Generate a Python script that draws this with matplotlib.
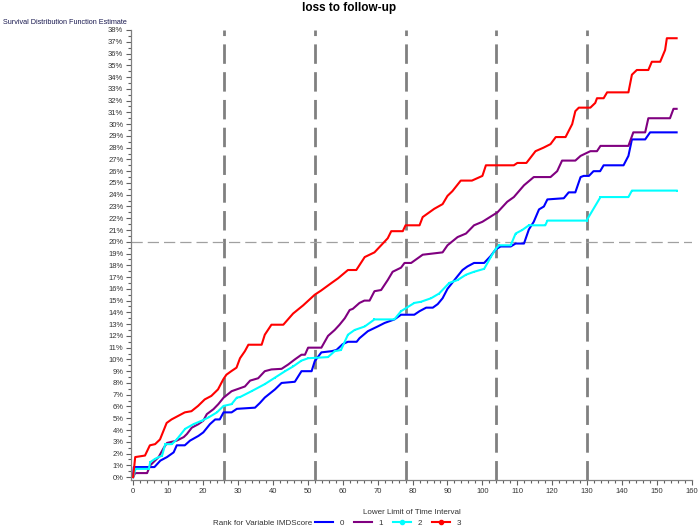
import matplotlib.pyplot as plt
from matplotlib.lines import Line2D
from matplotlib.ticker import MultipleLocator, PercentFormatter

plt.rcParams['font.family'] = ['Liberation Sans', 'DejaVu Sans']

# rank 0 (blue)
x0 = [0, 0.2, 6.1, 7.8, 9.7, 11.6, 12.5, 14.8, 16.3, 18.7, 20.1, 22, 23.5, 24.8, 25.9, 28.2, 29.7, 34.9,
      36.3, 37.7, 40.6, 42.5, 46.3, 48.2, 51.1, 52, 53.9, 56.8, 58.2, 60, 61.5, 64, 64.8, 67.2, 70, 72,
      74.8, 76.7, 80.5, 82, 83.9, 85.8, 87.2, 88.6, 90, 92.4, 94.3, 95.7, 97.6, 100.5, 102.4, 103.8,
      105.2, 108.1, 109.5, 111.9, 113.3, 114.7, 116.2, 117.6, 118.6, 123.3, 124.7, 126.6, 128.1, 129,
      130.5, 131.8, 133.7, 134.7, 140.4, 141.8, 142.8, 146.6, 148, 155.6]
y0 = [0, 0.85, 0.85, 1.4, 1.7, 2.1, 2.7, 2.7, 3.1, 3.5, 3.8, 4.5, 4.9, 4.9, 5.5, 5.5, 5.8, 5.9,
      6.3, 6.76, 7.45, 8.0, 8.1, 9.0, 9.0, 9.85, 10.6, 10.7, 10.8, 11.3, 11.5, 11.5, 11.8, 12.4, 12.8, 13.1,
      13.4, 13.8, 13.8, 14.1, 14.4, 14.4, 14.7, 15.2, 16.0, 16.9, 17.6, 17.9, 18.2, 18.2, 18.8, 19.35,
      19.6, 19.6, 19.85, 19.85, 21.05, 21.7, 22.75, 23.0, 23.6, 23.7, 24.2, 24.2, 25.5, 25.6,
      25.6, 26.0, 26.0, 26.5, 26.5, 27.3, 28.7, 28.7, 29.3, 29.3]

# rank 1 (purple)
x1 = [0, 0.6, 4, 4.9, 7.3, 8.8, 9.7, 12.5, 14.5, 15.4, 16.8, 18.7, 20.1, 21.1, 23, 24.4, 25.9, 28.2,
      30.1, 32, 33.5, 35.8, 37.7, 39.6, 42.5, 44.4, 46.3, 48.2, 49.2, 50.1, 53.9, 55.8, 57.7, 59.1, 60.6,
      62, 62.9, 64.8, 66.2, 67.7, 69.1, 71, 72.9, 74.3, 76.7, 77.7, 79.6, 82.9, 88.6, 90, 92.9, 95.3,
      97.6, 100, 104.3, 107.1, 109, 111.9, 114.7, 119.5, 121.4, 122.8, 126.6, 128.1, 130.9, 132.8,
      133.8, 141.8, 143.2, 146.6, 147.5, 153.7, 154.7, 155.6]
y1 = [0, 0.34, 0.34, 1.0, 1.7, 2.5, 2.9, 3.1, 3.4, 3.66, 4.2, 4.5, 4.8, 5.35, 5.77, 6.2, 6.75, 7.3,
      7.5, 7.7, 8.2, 8.4, 9.0, 9.15, 9.2, 9.57, 10.0, 10.4, 10.4, 11.0, 11.0, 12.0, 12.5, 12.95, 13.5,
      14.2, 14.3, 14.8, 15.0, 15.0, 15.8, 15.9, 16.75, 17.45, 17.8, 18.2, 18.2, 18.9, 19.1, 19.7, 20.4, 20.7,
      21.4, 21.7, 22.5, 23.4, 23.8, 24.8, 25.5, 25.5, 26.0, 26.9, 26.9, 27.3, 27.7, 27.7,
      28.15, 28.15, 29.3, 29.3, 30.5, 30.5, 31.3, 31.3]

# rank 2 (cyan)
x2 = [0, 0.7, 4.5, 4.9, 6.3, 8.3, 9.2, 11.1, 12.5, 14.9, 17.3, 19.7, 21.6, 24, 25.9, 28.2, 29.7, 30.6,
      33.9, 37.7, 40.6, 43.5, 45.8, 48.2, 50.1, 55.8, 57.7, 59.5, 61.5, 63.4, 66.3, 69.1, 74.8, 76.7,
      80.5, 82.4, 85.3, 87.6, 90.5, 92.9, 95.3, 97.6, 100.5, 102.4, 103.8, 104.8, 108.1, 109.5, 111.4,
      113.3, 118, 118.6, 129.8, 133.8, 141.8, 142.8, 155.6]
y2 = [0, 0.7, 0.7, 1.27, 1.55, 1.83, 2.8, 2.8, 3.2, 4.1, 4.5, 4.8, 5.07, 5.5, 6.05, 6.2, 6.76, 6.8,
      7.3, 7.9, 8.45, 9.0, 9.4, 9.9, 10.1, 10.2, 10.7, 10.8, 12.1, 12.5, 12.8, 13.4, 13.4, 14.1,
      14.8, 14.9, 15.2, 15.6, 16.5, 16.75, 17.2, 17.45, 17.7, 18.7, 19.4, 19.7, 19.7, 20.7, 21.0,
      21.4, 21.4, 21.8, 21.8, 23.8, 23.8, 24.35, 24.35]

# rank 3 (red)
x3 = [0, 0.6, 3.4, 4.8, 6.3, 7.7, 9.6, 11, 12.9, 14.8, 16.7, 18.6, 20.5, 22.4, 24.3, 25.8, 26.7, 28.1,
      29.6, 30.6, 32, 33, 36.8, 37.7, 39.6, 43, 45.8, 48.7, 52, 53.8, 56.8, 58.7, 61.5, 63.9, 66.3, 69.1,
      71, 72.9, 73.9, 77.2, 78, 82, 82.9, 86.2, 88.6, 90, 91.4, 93.8, 97, 100, 101, 109, 110, 112.6,
      115.2, 117.5, 119.5, 121, 123.8, 125.7, 126.6, 127.6, 130.9, 132.3, 132.8, 134.7, 135.7, 141.8,
      142.8, 144.2, 147.5, 148.5, 150.9, 152.3, 152.8, 155.6]
y3 = [0, 1.7, 1.83, 2.7, 2.8, 3.2, 4.6, 4.9, 5.2, 5.5, 5.6, 6.05, 6.6, 6.9, 7.45, 8.3, 8.7, 9.0,
      9.3, 10.1, 10.7, 11.25, 11.25, 12.1, 12.95, 12.95, 13.9, 14.6, 15.5, 15.85, 16.5, 16.9, 17.6, 17.6, 18.7, 19.1,
      19.7, 20.3, 20.9, 20.9, 21.4, 21.4, 22.1, 22.8, 23.2, 23.9, 24.3, 25.2, 25.2, 25.6, 26.5, 26.5, 26.7, 26.7,
      27.7, 28.0, 28.3, 28.9, 28.9, 30.0, 31.1, 31.4, 31.4, 31.8, 32.2, 32.2, 32.7, 32.7,
      34.2, 34.6, 34.6, 35.3, 35.3, 36.3, 37.3, 37.3]

ref_x = [26, 52, 78, 104, 130]
ref_y = 20

fig = plt.figure(figsize=(6.98, 5.30), dpi=100)
ax = fig.add_axes([0.1877, 0.0943, 0.8037, 0.8491])

for xv in ref_x:
    ax.axvline(xv, color='#808080', lw=2, dashes=(7, 3), zorder=1)
ax.axhline(ref_y, color='#a0a0a0', lw=0.9, dashes=(9, 4), zorder=1)

ax.plot(x0, y0, color='#0000ff', lw=1.5, zorder=3)
ax.plot(x1, y1, color='#800080', lw=1.5, zorder=3)
ax.plot(x2, y2, color='#00ffff', lw=1.5, marker='s', ms=1.5, mew=0, zorder=3)
ax.plot(x3, y3, color='#ff0000', lw=1.5, zorder=3)

ax.set_xlim(-0.6, 160)
ax.set_ylim(-0.25, 38)
ax.xaxis.set_major_locator(MultipleLocator(10))
ax.xaxis.set_minor_locator(MultipleLocator(2))
ax.yaxis.set_major_locator(MultipleLocator(1))
ax.yaxis.set_minor_locator(MultipleLocator(0.5))
ax.yaxis.set_major_formatter(PercentFormatter(decimals=0))

for s in ['top', 'right']:
    ax.spines[s].set_visible(False)
for s in ['left', 'bottom']:
    ax.spines[s].set_color('#808080')
    ax.spines[s].set_linewidth(0.9)
ax.tick_params(which='both', colors='#606060', labelcolor='#333333', labelsize=5.5, width=0.8, pad=2)
ax.tick_params(which='major', length=3.5)
ax.tick_params(which='minor', length=2)

ax.set_xlabel('Lower Limit of Time Interval', fontsize=5.8, color='#333333', labelpad=10)
fig.text(0.004, 0.958, 'Survival Distribution Function Estimate', fontsize=5.2, color='#1a1a50', va='center')
fig.suptitle('loss to follow-up', fontsize=8.5, fontweight='bold', y=0.997)

# legend along the bottom
fig.text(0.305, 0.013, 'Rank for Variable IMDScore', fontsize=5.8, color='#333333', va='center')
handles = [Line2D([], [], color='#0000ff', lw=1.5),
           Line2D([], [], color='#800080', lw=1.5),
           Line2D([], [], color='#00ffff', lw=1.5, marker='o', ms=3, markevery=[0, 1, 2]),
           Line2D([], [], color='#ff0000', lw=1.5, marker='o', ms=3, markevery=[0, 1, 2])]
for h in handles[2:]:
    h.set_xdata([0, 0.5, 1])
    h.set_ydata([0, 0, 0])
fig.legend(handles, ['0', '1', '2', '3'], loc='center left', bbox_to_anchor=(0.445, 0.013), ncol=4,
           frameon=False, fontsize=5.8, handlelength=2.3, columnspacing=1.2, handletextpad=0.8,
           borderpad=0, labelcolor='#333333')

plt.savefig('out.png', dpi=100)
